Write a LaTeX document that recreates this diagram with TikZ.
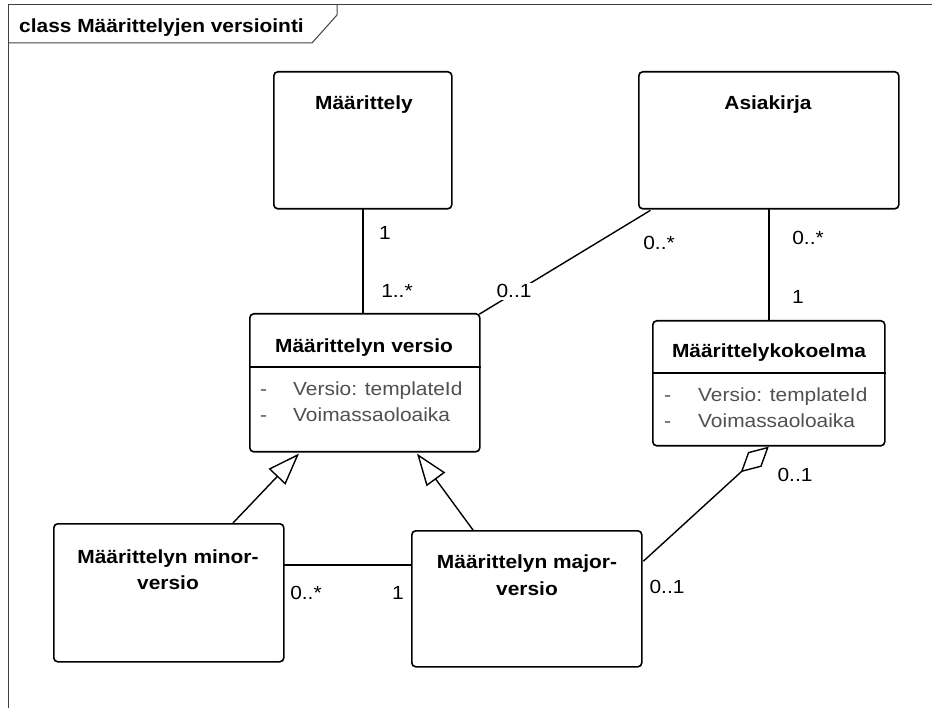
\documentclass[tikz,border=0pt]{standalone}
\usepackage{fontspec}
\setmainfont{Liberation Sans}[FakeStretch=1.1]
\usetikzlibrary{arrows.meta,calc}
\definecolor{attrgrey}{HTML}{505050}
\definecolor{framegrey}{HTML}{404040}
\tikzset{
  box/.style={draw=black, line width=1.6pt, rounded corners=4pt, fill=white, inner sep=0pt},
  ttl/.style={font=\bfseries\fontsize{19}{22}\selectfont, inner sep=0pt},
  attr/.style={font=\fontsize{19}{22}\selectfont, text=attrgrey, inner sep=0pt},
  mult/.style={font=\fontsize{19}{22}\selectfont, inner sep=0pt},
  conn/.style={line width=1.4pt, line cap=round},
  divider/.style={line width=1.4pt},
  gen/.style={conn, {Triangle[open, length=32pt 0, width=23pt 0, line width=1.4pt]}-},
  agg/.style={conn, {Diamond[open, length=38pt 0, width=20pt 0, line width=1.4pt]}-},
}
\begin{document}
\begin{tikzpicture}[x=1pt, y=-1pt]
\useasboundingbox (0,0) rectangle (932,708);
% frame
\draw[framegrey, line width=1pt] (8,708) -- (8,5) -- (932,5);
\draw[framegrey, line width=1pt] (8,43) -- (312,43) -- (337,15) -- (337,5);
\node[ttl, anchor=base west] (frametitle) at (19,33) {class Määrittelyjen versiointi};

% boxes
\node[box, minimum width=178pt, minimum height=137pt, anchor=north west] (mdef) at (273,71) {};
\node[box, minimum width=260pt, minimum height=137pt, anchor=north west] (asia) at (638,71) {};
\node[box, minimum width=230pt, minimum height=138pt, anchor=north west] (mver) at (249,313) {};
\node[box, minimum width=232pt, minimum height=125pt, anchor=north west] (kok) at (652,320) {};
\node[box, minimum width=230pt, minimum height=138pt, anchor=north west] (minor) at (53,523) {};
\node[box, minimum width=230pt, minimum height=136pt, anchor=north west] (major) at (411,530) {};

% dividers
\draw[divider] ($(mver.north west)+(0,54)$) -- ($(mver.north east)+(0,54)$);
\draw[divider] ($(kok.north west)+(0,53)$) -- ($(kok.north east)+(0,53)$);

% titles
\node[ttl, anchor=base] (tmdef) at (364,110) {Määrittely};
\node[ttl, anchor=base] (tasia) at (768,110) {Asiakirja};
\node[ttl, anchor=base] (tmver) at (364,353) {Määrittelyn versio};
\node[ttl, anchor=base] (tkok) at (769,358) {Määrittelykokoelma};
\node[ttl, anchor=base] (tminor1) at (168,563) {Määrittelyn minor-};
\node[ttl, anchor=base] (tminor2) at (168,589) {versio};
\node[ttl, anchor=base] (tmajor1) at (527,568) {Määrittelyn major-};
\node[ttl, anchor=base] (tmajor2) at (527,595) {versio};

% attributes
\node[attr, anchor=base west] (d1) at (260,396) {-};
\node[attr, anchor=base west] (a1) at (293,396) {Versio: templateId};
\node[attr, anchor=base west] (d2) at (260,422) {-};
\node[attr, anchor=base west] (a2) at (293,422) {Voimassaoloaika};
\node[attr, anchor=base west] (d3) at (664,402) {-};
\node[attr, anchor=base west] (a3) at (698,402) {Versio: templateId};
\node[attr, anchor=base west] (d4) at (664,428) {-};
\node[attr, anchor=base west] (a4) at (698,428) {Voimassaoloaika};

% connectors
\draw[conn] (mdef.south) -- (mdef.south |- mver.north);
\draw[conn] ($(asia.south west)+(12,1)$) -- ($(mver.north east)+(-1,1)$);
\draw[conn] (asia.south) -- (kok.north);
\coordinate (majr) at ($(major.north east)+(1,31)$);
\draw[agg] (kok.south) -- (majr);
\coordinate (minr) at ($(minor.north east)+(0,42)$);
\draw[conn] (minr) -- (major.west |- minr);
\draw[gen] ($(mver.south west)+(50,1)$) -- ($(minor.north west)+(180,0)$);
\draw[gen] ($(mver.south west)+(168,1)$) -- ($(major.north west)+(62,0)$);

% multiplicities
\node[mult, anchor=base] (m1) at (385,240) {1};
\node[mult, anchor=base] (m2) at (397,298) {1..*};
\node[mult, anchor=base, fill=white, inner sep=2pt] (m3) at (514,298) {0..1};
\node[mult, anchor=base] (m4) at (659,250) {0..*};
\node[mult, anchor=base] (m5) at (808,245) {0..*};
\node[mult, anchor=base] (m6) at (798,304) {1};
\node[mult, anchor=base] (m7) at (795,481) {0..1};
\node[mult, anchor=base] (m8) at (667,593) {0..1};
\node[mult, anchor=base] (m9) at (306,599) {0..*};
\node[mult, anchor=base] (m10) at (398,599) {1};
\end{tikzpicture}
\end{document}
